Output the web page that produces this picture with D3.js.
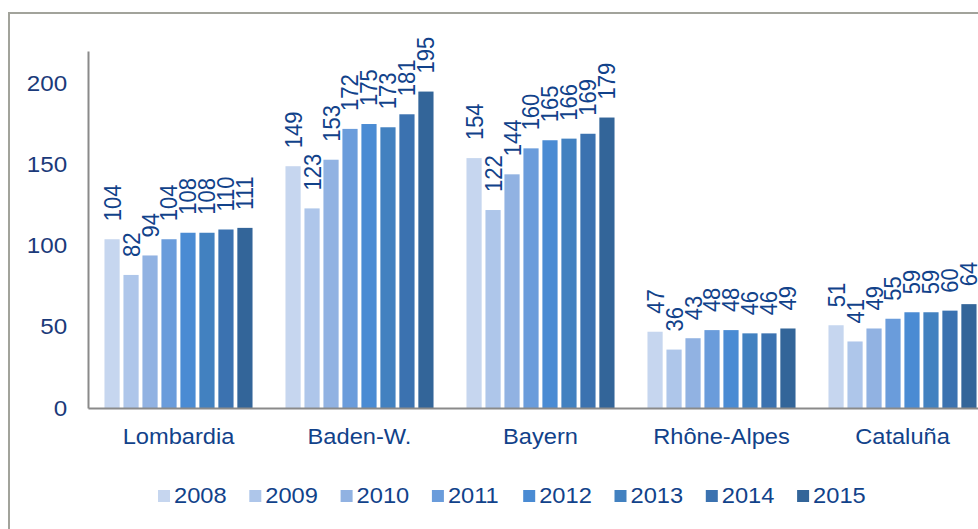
<html>
<head>
  <meta charset="utf-8">
  <style>
    body { margin: 0; background: #fff; }
    svg text { font-family: "Liberation Sans", Arial, sans-serif; }
  </style>
</head>
<body>
  <div id="elm"></div>
  <script src="https://d3js.org/d3.v7.min.js"></script>
  <script>
  'use strict';

  var regions = ['Lombardia', 'Baden-W.', 'Bayern', 'Rhône-Alpes', 'Cataluña'];
  var years = ['2008', '2009', '2010', '2011', '2012', '2013', '2014', '2015'];
  var lombardia = [104, 82, 94, 104, 108, 108, 110, 111];
  var badenW = [149, 123, 153, 172, 175, 173, 181, 195];
  var bayern = [154, 122, 144, 160, 165, 166, 169, 179];
  var rhoneAlpes = [47, 36, 43, 48, 48, 46, 46, 49];
  var cataluna = [51, 41, 49, 55, 59, 59, 60, 64];
  var yTicks = [0, 50, 100, 150, 200];
  var colors = ['#c6d6ef', '#aec6ea', '#91b2e2', '#6a9cdb', '#4a8bd3', '#4281c0', '#3b72b0', '#336599'];

  var values = [lombardia, badenW, bayern, rhoneAlpes, cataluna];

  var width = 978, height = 529;
  var textColor = '#11428a', tickColor = '#1b3a7a', axisColor = '#8a8a8a';

  var svg = d3.select('#elm').append('svg').attr('width', width).attr('height', height);

  // chart frame (cut off at right and bottom)
  svg.append('rect')
    .attr('x', 9).attr('y', 13).attr('width', 1000).attr('height', 600)
    .attr('fill', 'none').attr('stroke', '#a2a39b').attr('stroke-width', 2);

  var x = d3.scaleBand().domain(regions).range([88, 993])
    .paddingInner(0.182).paddingOuter(0.091);
  var xi = d3.scaleBand().domain(years).range([0, x.bandwidth()]).paddingInner(0.2);
  var y = d3.scaleLinear().domain([0, 220]).range([408, 51]);
  var color = d3.scaleOrdinal().domain(years).range(colors);

  var groups = svg.selectAll('g.region').data(regions).enter().append('g')
    .attr('class', 'region')
    .attr('transform', function(d) { return 'translate(' + x(d) + ',0)'; });

  groups.selectAll('rect').data(function(d, i) {
      return values[i].map(function(v, j) { return { year: years[j], value: v }; });
    }).enter().append('rect')
    .attr('x', function(d) { return xi(d.year); })
    .attr('y', function(d) { return y(d.value); })
    .attr('width', xi.bandwidth())
    .attr('height', function(d) { return y(0) - y(d.value); })
    .attr('fill', function(d) { return color(d.year); });

  groups.selectAll('text').data(function(d, i) {
      return values[i].map(function(v, j) { return { year: years[j], value: v }; });
    }).enter().append('text')
    .attr('transform', function(d) {
      return 'translate(' + (xi(d.year) + xi.bandwidth() / 2) + ',' + (y(d.value) - 18) + ') scale(1.1,1) rotate(-90)';
    })
    .attr('dy', '0.35em')
    .attr('font-size', 22)
    .attr('fill', textColor)
    .text(function(d) { return d.value; });

  // y axis
  var yAxis = svg.append('g').attr('transform', 'translate(88,0)')
    .call(d3.axisLeft(y).tickValues(yTicks).tickSize(0).tickPadding(19));
  yAxis.select('.domain').attr('stroke', axisColor).attr('stroke-width', 2);
  yAxis.selectAll('text')
    .attr('font-size', 22).attr('fill', tickColor)
    .attr('font-family', '"Liberation Sans", Arial, sans-serif')
    .attr('transform', 'scale(1.1,1)');

  // x axis
  var xAxis = svg.append('g').attr('transform', 'translate(0,408)')
    .call(d3.axisBottom(x).tickSize(0).tickPadding(21));
  xAxis.select('.domain').attr('stroke', axisColor).attr('stroke-width', 2);
  xAxis.selectAll('text')
    .attr('font-size', 21.5).attr('fill', textColor)
    .attr('font-family', '"Liberation Sans", Arial, sans-serif')
    .attr('transform', 'scale(1.1,1)');

  // legend
  var legend = svg.append('g').selectAll('g').data(years).enter().append('g')
    .attr('transform', function(d, i) { return 'translate(' + (158 + i * 91.3) + ',490)'; });
  legend.append('rect').attr('width', 12).attr('height', 12)
    .attr('fill', function(d) { return color(d); });
  legend.append('text')
    .attr('transform', 'translate(16,13) scale(1.1,1)')
    .attr('font-size', 21.5).attr('fill', textColor)
    .text(function(d) { return d; });
  </script>
</body>
</html>
